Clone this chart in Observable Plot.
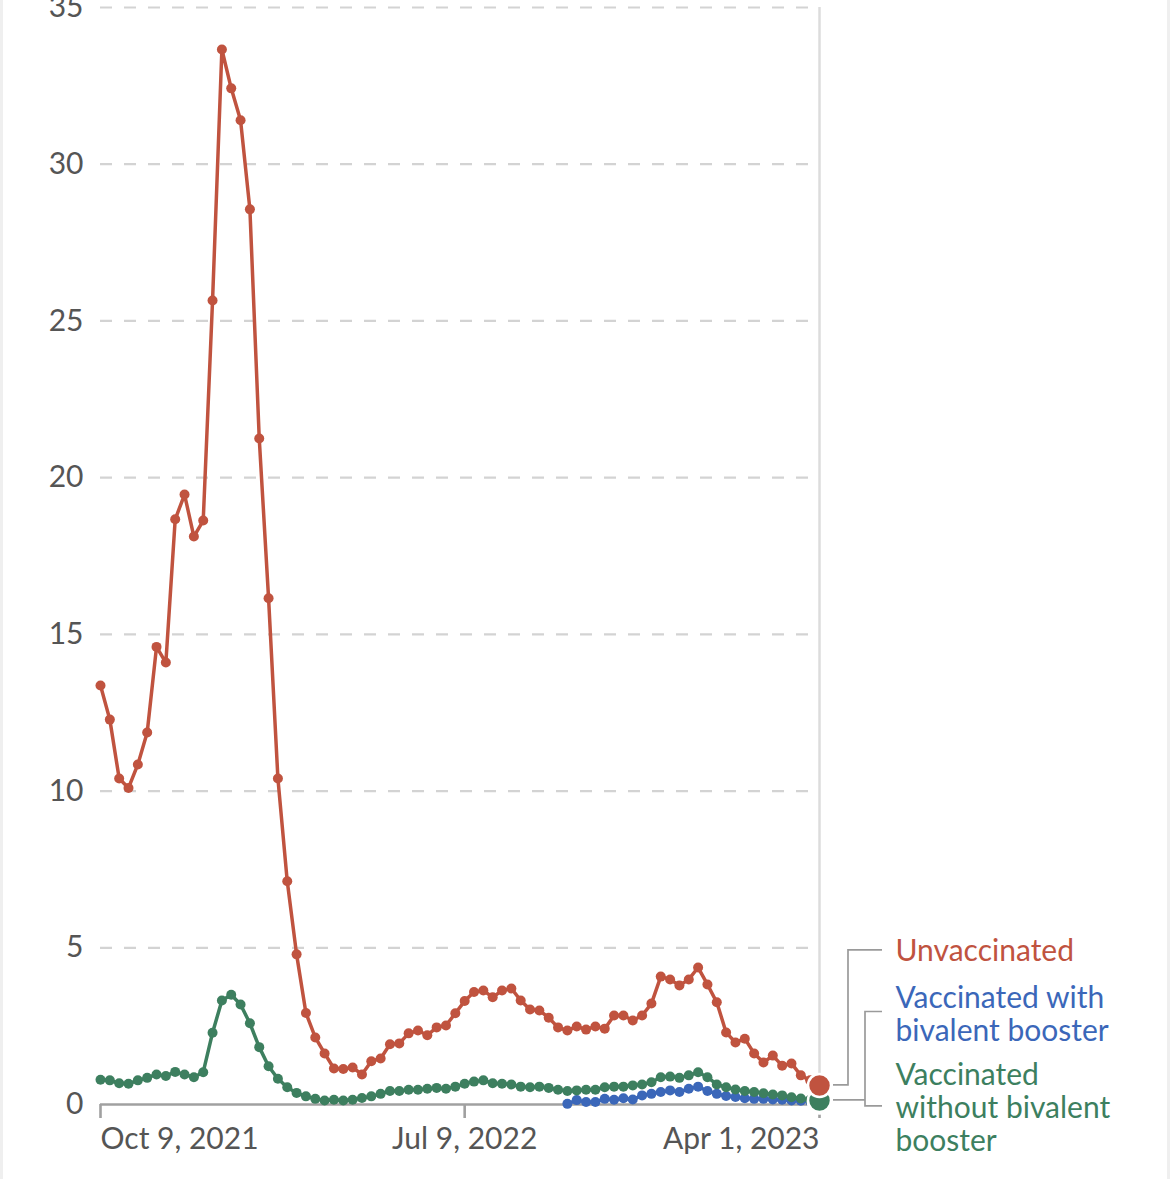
<!DOCTYPE html>
<html>
<head>
<meta charset="utf-8">
<script src="https://cdn.jsdelivr.net/npm/d3@7"></script>
<script src="https://cdn.jsdelivr.net/npm/@observablehq/plot@0.6"></script>
<style>
html, body { margin: 0; padding: 0; background: #fff; }
body { width: 1170px; height: 1179px; overflow: hidden; position: relative; }
#chart svg { display: block; }
.edge { position: absolute; top: 0; height: 100%; background: #efefef; }
</style>
</head>
<body>
<div class="edge" style="left:0;width:3px"></div>
<div class="edge" style="right:0;width:3px"></div>
<div id="chart"></div>
<script>
// ---- data ----
const startDate = "2021-10-09";          // first weekly observation
const bivalentStartDate = "2022-09-24";  // first week of bivalent series
const seriesNames = ["Unvaccinated", "Vaccinated with bivalent booster", "Vaccinated without bivalent booster"];
const seriesLabels = ["Unvaccinated", "Vaccinated with\nbivalent booster", "Vaccinated\nwithout bivalent\nbooster"];
const seriesColors = ["#c0533f", "#3b67b9", "#3d7f5f"];

const unvaccinated = [
  13.37, 12.28, 10.4, 10.1, 10.85, 11.87, 14.6, 14.1, 18.67, 19.46,
  18.12, 18.63, 25.65, 33.66, 32.42, 31.4, 28.56, 21.25, 16.15, 10.4,
  7.12, 4.79, 2.92, 2.14, 1.63, 1.15, 1.13, 1.18, 0.96, 1.38,
  1.47, 1.92, 1.95, 2.27, 2.36, 2.21, 2.46, 2.52, 2.91, 3.30,
  3.59, 3.64, 3.42, 3.64, 3.70, 3.32, 3.03, 3.0, 2.77, 2.46,
  2.36, 2.49, 2.39, 2.49, 2.42, 2.84, 2.84, 2.68, 2.84, 3.22,
  4.08, 3.99, 3.80, 3.99, 4.37, 3.83, 3.26, 2.30, 1.98, 2.1,
  1.63, 1.34, 1.56, 1.24, 1.31, 0.93, 0.77, 0.61
];
const withoutBivalent = [
  0.79, 0.77, 0.68, 0.66, 0.77, 0.85, 0.96, 0.91, 1.04, 0.96,
  0.87, 1.03, 2.29, 3.32, 3.50, 3.19, 2.59, 1.83, 1.22, 0.82,
  0.55, 0.37, 0.26, 0.18, 0.13, 0.15, 0.13, 0.15, 0.21, 0.26,
  0.34, 0.43, 0.43, 0.47, 0.47, 0.50, 0.53, 0.50, 0.57, 0.66,
  0.73, 0.77, 0.68, 0.66, 0.64, 0.57, 0.55, 0.57, 0.53, 0.47,
  0.43, 0.45, 0.47, 0.47, 0.55, 0.57, 0.57, 0.61, 0.64, 0.71,
  0.87, 0.89, 0.85, 0.93, 1.03, 0.87, 0.64, 0.55, 0.48, 0.43,
  0.40, 0.36, 0.32, 0.29, 0.23, 0.19, 0.15, 0.13
];
const withBivalent = [
  0.02, 0.14, 0.08, 0.08, 0.18, 0.15, 0.20, 0.16, 0.29, 0.34,
  0.40, 0.45, 0.40, 0.50, 0.57, 0.43, 0.34, 0.27, 0.24, 0.20,
  0.18, 0.18, 0.16, 0.15, 0.13, 0.12, 0.10, 0.08
];

const xTickDates = ["2021-10-09", "2022-07-09", "2023-04-01"];
const xTickLabels = ["Oct 9, 2021", "Jul 9, 2022", "Apr 1, 2023"];
const yTicks = [0, 5, 10, 15, 20, 25, 30, 35];

// ---- build tables ----
const parse = d3.utcParse("%Y-%m-%d");
const weekly = (start, values, series) =>
  values.map((v, i) => ({date: d3.utcDay.offset(parse(start), 7 * i), value: v, series}));

const rowsU = weekly(startDate, unvaccinated, seriesNames[0]);
const rowsB = weekly(bivalentStartDate, withBivalent, seriesNames[1]);
const rowsG = weekly(startDate, withoutBivalent, seriesNames[2]);
const lastDate = rowsU[rowsU.length - 1].date;
const ends = [rowsB.at(-1), rowsG.at(-1), rowsU.at(-1)];
const ticks = xTickDates.map((d, i) => ({date: parse(d), label: xTickLabels[i]}));

const FONT = 30;
const textGray = "#555";
const axisGray = "#a0a0a0";

const seriesMarks = (rows, color) => [
  Plot.line(rows, {x: "date", y: "value", stroke: color, strokeWidth: 3.5}),
  Plot.dot(rows, {x: "date", y: "value", fill: color, r: 5})
];

const labelMark = (i, dy) => Plot.text([ends.find(e => e.series === seriesNames[i])], {
  x: "date", y: "value", text: () => seriesLabels[i], fill: seriesColors[i],
  dx: 76, dy, textAnchor: "start", lineAnchor: "middle", fontSize: FONT, lineHeight: 1.1
});

const connectors = (index, {x, y}) => {
  const g = d3.create("svg:g").attr("fill", "none").attr("stroke", "#9a9a9a").attr("stroke-width", 1.7);
  const px = x(lastDate);
  const yr = y(rowsU.at(-1).value), yg = y(rowsG.at(-1).value), yb = y(rowsB.at(-1).value);
  g.append("path").attr("d", `M${px + 14},${yr}H${px + 29}V${yr - 135}H${px + 63}`);
  g.append("path").attr("d", `M${px + 14},${yg}H${px + 46}M${px + 63},${yb - 90}H${px + 46}V${yg + 6}H${px + 63}`);
  return g.node();
};

const chart = Plot.plot({
  width: 1170,
  height: 1179,
  marginLeft: 100,
  marginRight: 351,
  marginTop: 7,
  marginBottom: 75,
  style: {fontFamily: "Lato, 'Open Sans', sans-serif", background: "white", overflow: "visible"},
  x: {type: "utc", domain: [parse(startDate), lastDate]},
  y: {domain: [0, 35]},
  marks: [
    Plot.gridY(yTicks.filter(d => d > 0), {stroke: "#d3d3d3", strokeOpacity: 1, strokeWidth: 2.2, strokeDasharray: "12,12"}),
    Plot.ruleX([lastDate], {stroke: "#dcdcdc", strokeWidth: 2.5}),
    Plot.ruleY([0], {stroke: axisGray, strokeWidth: 2.6}),
    Plot.axisX(ticks.map(t => t.date), {tickSize: 14, tickFormat: () => "", stroke: axisGray, strokeWidth: 2.6, label: null}),
    Plot.axisY(yTicks, {tickSize: 0, tickPadding: 17, fontSize: FONT, fill: textGray, label: null}),
    Plot.text(ticks.slice(0, 1), {x: "date", text: "label", frameAnchor: "bottom", dy: 44, textAnchor: "start", fontSize: FONT, fill: textGray}),
    Plot.text(ticks.slice(1, 2), {x: "date", text: "label", frameAnchor: "bottom", dy: 44, textAnchor: "middle", fontSize: FONT, fill: textGray}),
    Plot.text(ticks.slice(2, 3), {x: "date", text: "label", frameAnchor: "bottom", dy: 44, textAnchor: "end", fontSize: FONT, fill: textGray}),
    ...seriesMarks(rowsB, seriesColors[1]),
    ...seriesMarks(rowsG, seriesColors[2]),
    ...seriesMarks(rowsU, seriesColors[0]),
    Plot.dot(ends, {x: "date", y: "value", fill: d => seriesColors[seriesNames.indexOf(d.series)], r: 11.5, stroke: "white", strokeWidth: 2.5}),
    connectors,
    labelMark(0, -135),
    labelMark(1, -88),
    labelMark(2, 7)
  ]
});
document.getElementById("chart").appendChild(chart);
</script>
</body>
</html>
